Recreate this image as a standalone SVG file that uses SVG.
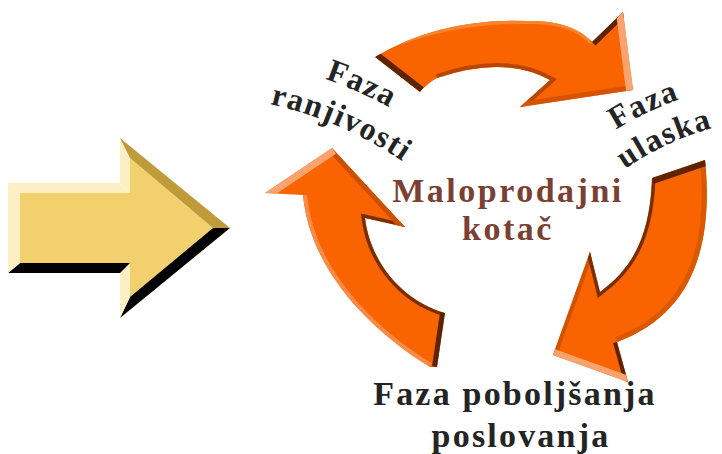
<svg xmlns="http://www.w3.org/2000/svg" width="722" height="454" viewBox="0 0 722 454">
<style>
.o{fill:#F96300}
.lbl{font-family:"Liberation Serif","Times New Roman",serif;font-weight:bold;fill:#242424}
.arc{font-size:32px;letter-spacing:1.5px}
.big{font-size:34px;letter-spacing:2.2px;text-anchor:middle}
.hub{font-family:"Liberation Serif","Times New Roman",serif;font-weight:bold;fill:#7A4033;font-size:34px;letter-spacing:2.5px;text-anchor:middle}
.bev{fill:none}
</style>
<defs>
<path id="topShape" d="M375 57 Q440 18 527 21 Q572 20 592 42 L623 12 L633 90 L520 107 L550 80 Q505 55 437 78 Q428 83 420 92 Z"/>
<path id="rightShape" d="M652 178 L705 160 C714 250 690 315 617 342 L628 382 L553 355 L590 252 L600 292 C630 270 650 240 652 178 Z"/>
<path id="leftShape" d="M445 313 L437 367 L430 367 C370 330 310 270 303 195 L265 193 L332 148 L405 227 L365 218 C370 260 400 300 445 313 Z"/>
<clipPath id="topClip"><use href="#topShape"/></clipPath>
<clipPath id="rightClip"><use href="#rightShape"/></clipPath>
<clipPath id="leftClip"><use href="#leftShape"/></clipPath>
<path id="pL1" d="M325 79 A432 432 0 0 1 534.5 235.5"/>
<path id="pL2" d="M270 104 A391 391 0 0 1 502.3 258.7"/>
<path id="pR1" d="M616 130 A315 315 0 0 1 942 124"/>
<path id="pR2" d="M625 169 A279 279 0 0 1 924.5 155.9"/>
</defs>

<g id="input-arrow">
<polygon points="20,193 130,193 130,158 213,228 130,297 130,263 20,263" fill="#F2D06E"/>
<polygon points="8,183 120,183 130,193 20,193" fill="#FDEFC4"/>
<polygon points="120,183 120,138 130,158 130,193" fill="#FDEFC4"/>
<polygon points="120,138 230,228 213,228 130,158" fill="#BF9B3A"/>
<polygon points="230,228 120,318 130,297 213,228" fill="#000000"/>
<polygon points="120,318 120,273 130,263 130,297" fill="#FDEFC4"/>
<polygon points="120,273 8,273 20,263 130,263" fill="#000000"/>
<polygon points="8,273 8,183 20,193 20,263" fill="#FDEFC4"/>
</g>

<g id="connectors">
<g id="arrow-top">
<use href="#topShape" class="o"/>
<g clip-path="url(#topClip)" class="bev">
<path d="M400 42 Q460 20 527 21 Q572 20 592 42" stroke="#F8842C" stroke-width="6"/>
<path d="M520 107 L550 80 Q505 55 437 78" stroke="#B84600" stroke-width="8"/>
<path d="M633 90 L520 107" stroke="#D65400" stroke-width="10"/>
<path d="M375 57 L420 92" stroke="#5E2300" stroke-width="12"/>
<path d="M592 42 L623 12" stroke="#5E2300" stroke-width="10"/>
<path d="M623 12 L633 90" stroke="#FBA36E" stroke-width="14"/>
</g>
</g>
<g id="arrow-right">
<use href="#rightShape" class="o"/>
<g clip-path="url(#rightClip)" class="bev">
<path d="M705 160 C714 250 690 315 617 342" stroke="#DA5800" stroke-width="10"/>
<path d="M553 355 L590 252" stroke="#D35200" stroke-width="8"/>
<path d="M590 252 L600 292 C630 270 650 240 652 178" stroke="#7A2E00" stroke-width="7"/>
<path d="M617 342 L628 382" stroke="#5E2300" stroke-width="8"/>
<path d="M553 355 L628 382" stroke="#FBA36E" stroke-width="12"/>
<path d="M652 178 L705 160" stroke="#5E2300" stroke-width="12"/>
</g>
</g>
<g id="arrow-left">
<use href="#leftShape" class="o"/>
<g clip-path="url(#leftClip)" class="bev">
<path d="M430 367 C370 330 310 270 303 195" stroke="#FA8A45" stroke-width="8"/>
<path d="M405 227 L365 218 C370 260 400 300 445 313" stroke="#7A2E00" stroke-width="7"/>
<path d="M332 148 L405 227" stroke="#CC5000" stroke-width="10"/>
<path d="M265 193 L332 148" stroke="#FBA36E" stroke-width="14"/>
<path d="M445 313 L437 367" stroke="#5E2300" stroke-width="10"/>
</g>
</g>
</g>

<g id="node-ranjivost">
<text class="lbl arc"><textPath href="#pL1">Faza</textPath></text>
<text class="lbl arc"><textPath href="#pL2">ranjivosti</textPath></text>
</g>
<g id="node-ulazak">
<text class="lbl arc"><textPath href="#pR1">Faza</textPath></text>
<text class="lbl arc"><textPath href="#pR2">ulaska</textPath></text>
</g>
<g id="node-poboljsanje">
<text class="lbl big" x="515" y="405">Faza poboljšanja</text>
<text class="lbl big" x="521" y="447">poslovanja</text>
</g>
<g id="node-kotac">
<text class="hub" x="508" y="202">Maloprodajni</text>
<text class="hub" x="508" y="240">kotač</text>
</g>
</svg>
